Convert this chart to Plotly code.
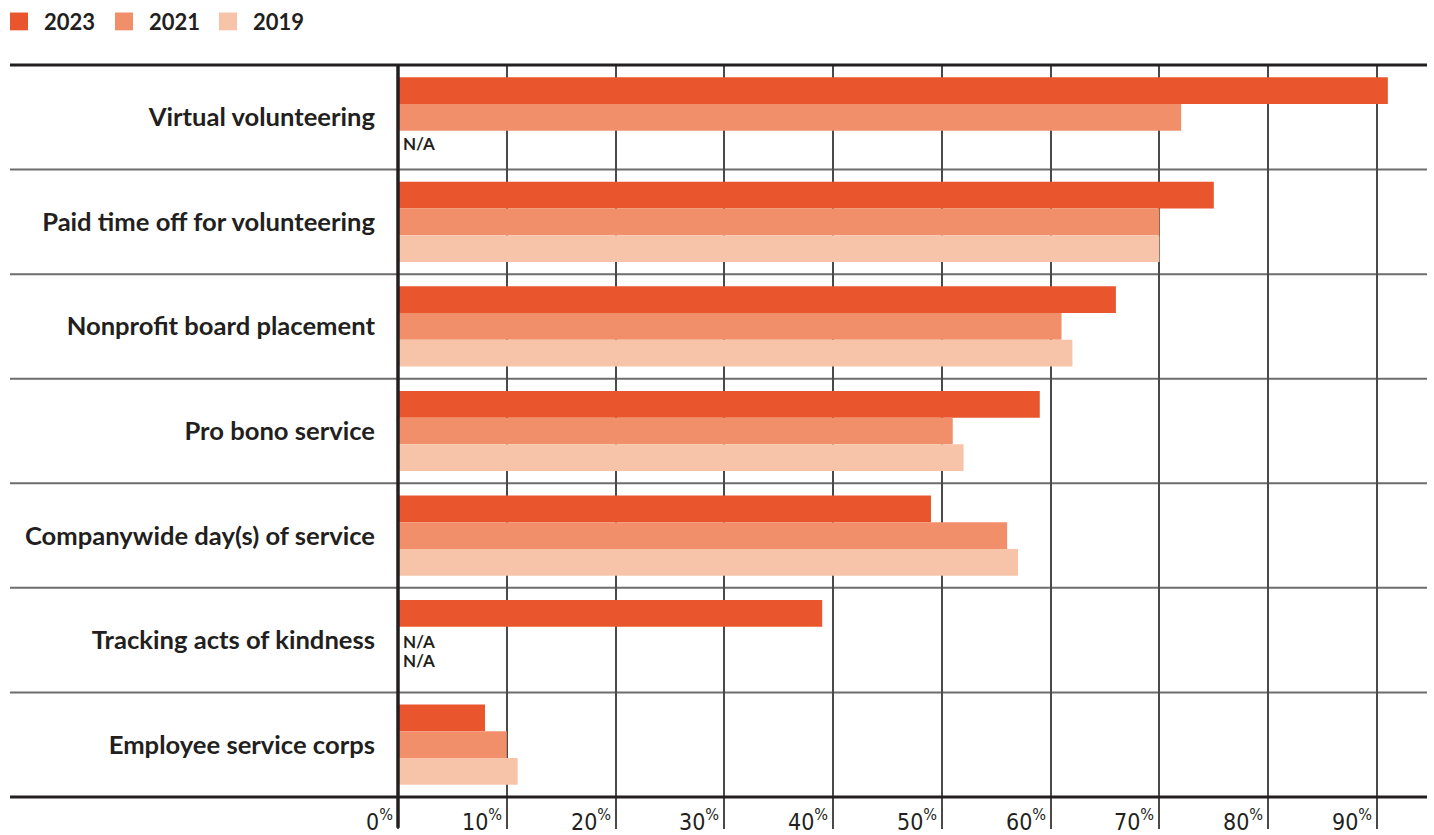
import plotly.graph_objects as go

# ---- data ----
categories = [
    "Virtual volunteering",
    "Paid time off for volunteering",
    "Nonprofit board placement",
    "Pro bono service",
    "Companywide day(s) of service",
    "Tracking acts of kindness",
    "Employee service corps",
]
v2023 = [91, 75, 66, 59, 49, 39, 8]
v2021 = [72, 70, 61, 51, 56, None, 10]
v2019 = [None, 70, 62, 52, 57, None, 11]
years = ["2023", "2021", "2019"]
series = [v2023, v2021, v2019]
colors = ["#E9562E", "#F18F6A", "#F8C4A9"]
tick_vals = [0, 10, 20, 30, 40, 50, 60, 70, 80, 90]
tick_labels = [f"{v}<sup>%</sup>" for v in tick_vals]
na_label = "N/A"

# ---- layout geometry (pixels) ----
FW, FH = 1434, 835
L, R, T, B = 398, 1427, 65, 804
PW, PH = R - L, B - T
XMAX = 94.6
INK = "#231F20"


def px_x(x):
    return (x - L) / PW


def px_y(y):
    return (B - y) / PH


fig = go.Figure()
for name, vals, col in zip(years, series, colors):
    fig.add_trace(go.Bar(
        y=categories, x=vals, name=name, orientation="h",
        marker=dict(color=col, line=dict(width=0)),
        hoverinfo="x+y+name", showlegend=False,
    ))

shapes = []
# horizontal lines: top border, separators, bottom axis
n = len(categories)
for i in range(n + 1):
    yp = 1 - i / n
    if i == 0 or i == n:
        shapes.append(dict(type="line", xref="paper", yref="paper",
                           x0=px_x(10), x1=1.0, y0=yp, y1=yp,
                           line=dict(color=INK, width=3), layer="above"))
    else:
        shapes.append(dict(type="line", xref="paper", yref="paper",
                           x0=px_x(10), x1=1.0, y0=yp, y1=yp,
                           line=dict(color="#6d6d6d", width=2), layer="below"))
# vertical zero line, extending below axis
shapes.append(dict(type="line", xref="paper", yref="paper",
                   x0=0, x1=0, y0=px_y(FH), y1=1,
                   line=dict(color=INK, width=3.5), layer="above"))

annotations = []
# x tick labels to the left of gridlines
for v, lab in zip(tick_vals, tick_labels):
    annotations.append(dict(
        x=v, xref="x", y=px_y(810), yref="paper", text=lab, showarrow=False,
        xanchor="right", yanchor="top", xshift=-3,
        font=dict(family="Liberation Sans Narrow, DejaVu Sans Condensed, Roboto",
                  size=23, color=INK),
    ))

# N/A labels where values are missing
slot_shift = {1: -1, 2: -26}
for si, vals in enumerate(series):
    missing = [c for c, v in zip(categories, vals) if v is None]
    for c in missing:
        both = sum(1 for s in series if s[categories.index(c)] is None) > 1
        if both:
            ys = -1 if si == 1 else -20
        else:
            ys = slot_shift.get(si, 0)
        annotations.append(dict(
            x=0, xref="x", y=c, yref="y", text=na_label, showarrow=False,
            xanchor="left", yanchor="middle", xshift=3, yshift=ys,
            font=dict(family="Lato", size=17, color=INK, weight="bold"),
        ))

# custom legend
leg_sq = [10, 115, 219]
for x0, name, col in zip(leg_sq, years, colors):
    shapes.append(dict(type="rect", xref="paper", yref="paper",
                       x0=px_x(x0), x1=px_x(x0 + 18), y0=px_y(30), y1=px_y(12),
                       fillcolor=col, line=dict(width=0)))
    annotations.append(dict(
        x=px_x(x0 + 32), xref="paper", y=px_y(21), yref="paper", text=name,
        showarrow=False, xanchor="left", yanchor="middle",
        font=dict(family="Lato", size=22, color=INK, weight="bold"),
    ))

fig.update_layout(
    width=FW, height=FH,
    margin=dict(l=L, r=FW - R, t=T, b=FH - B, pad=0),
    paper_bgcolor="white", plot_bgcolor="white",
    barmode="group", bargap=0.233, bargroupgap=0,
    shapes=shapes, annotations=annotations,
    xaxis=dict(
        range=[0, XMAX], tickvals=tick_vals, showticklabels=False,
        showgrid=True, gridcolor="#4a4a4a", gridwidth=1.5,
        ticks="outside", ticklen=FH - B, tickwidth=1.5, tickcolor="#4a4a4a",
        zeroline=False, showline=False, fixedrange=True,
    ),
    yaxis=dict(
        categoryorder="array", categoryarray=categories,
        range=[n - 0.5, -0.5], showgrid=False, zeroline=False, showline=False,
        ticks="", ticklabelstandoff=22,
        tickfont=dict(family="Lato", size=25.6, color=INK, weight="bold"),
        fixedrange=True,
    ),
    showlegend=False,
)

fig.write_html("out.html")
